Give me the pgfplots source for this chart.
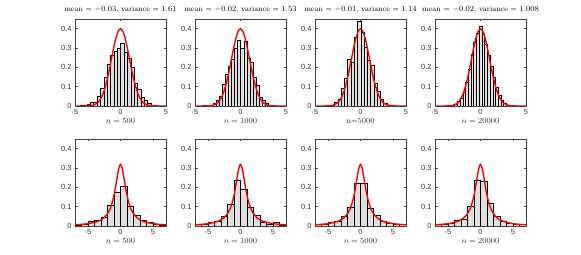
\documentclass[border=0pt]{standalone}
\usepackage{fontspec}
\usepackage{pgfplots}
\usepackage{pgfplotstable}
\pgfplotsset{compat=1.18}
\newfontfamily\ticks{Liberation Sans}

\pgfplotstableread{
x y
-5 0
-4.5 0.00002
-4 0.0001
-3.5 0.0009
-3.25 0.0020
-3 0.0044
-2.75 0.0091
-2.5 0.0175
-2.25 0.0317
-2 0.0540
-1.75 0.0863
-1.5 0.1295
-1.25 0.1826
-1 0.2420
-0.75 0.3011
-0.5 0.3521
-0.25 0.3867
0 0.3989
0.25 0.3867
0.5 0.3521
0.75 0.3011
1 0.2420
1.25 0.1826
1.5 0.1295
1.75 0.0863
2 0.0540
2.25 0.0317
2.5 0.0175
2.75 0.0091
3 0.0044
3.25 0.0020
3.5 0.0009
4 0.0001
4.5 0.00002
5 0
}\normtab

\pgfplotstableread{
x y
-7 0.0064
-6 0.0086
-5 0.0122
-4 0.0187
-3.5 0.0240
-3 0.0318
-2.5 0.0439
-2 0.0637
-1.75 0.0784
-1.5 0.0979
-1.25 0.1242
-1 0.1592
-0.875 0.1803
-0.75 0.2037
-0.625 0.2289
-0.5 0.2546
-0.375 0.2791
-0.25 0.2996
-0.125 0.3134
0 0.3183
0.125 0.3134
0.25 0.2996
0.375 0.2791
0.5 0.2546
0.625 0.2289
0.75 0.2037
0.875 0.1803
1 0.1592
1.25 0.1242
1.5 0.0979
1.75 0.0784
2 0.0637
2.5 0.0439
3 0.0318
3.5 0.0240
4 0.0187
5 0.0122
6 0.0086
7 0.0064
}\cauchytab

\pgfplotstableread{
x y
-4.42 0.003
-4.05 0.004
-3.68 0.008
-3.31 0.018
-2.94 0.02
-2.57 0.05
-2.20 0.09
-1.83 0.148
-1.46 0.214
-1.09 0.265
-0.72 0.285
-0.35 0.30
0.02 0.322
0.39 0.28
0.76 0.245
1.13 0.20
1.50 0.12
1.87 0.085
2.24 0.045
2.61 0.03
2.98 0.014
3.35 0.006
3.72 0.003
4.09 0
}\histA

\pgfplotstableread{
x y
-4.06 0.002
-3.72 0.003
-3.38 0.006
-3.04 0.012
-2.70 0.028
-2.36 0.05
-2.02 0.11
-1.68 0.165
-1.34 0.205
-1.00 0.24
-0.66 0.30
-0.32 0.34
0.02 0.30
0.36 0.335
0.70 0.245
1.04 0.228
1.38 0.15
1.72 0.105
2.06 0.045
2.40 0.03
2.74 0.014
3.08 0.006
3.42 0.002
3.76 0
}\histB

\pgfplotstableread{
x y
-3.57 0.002
-3.21 0.005
-2.85 0.02
-2.49 0.035
-2.13 0.09
-1.77 0.143
-1.41 0.24
-1.05 0.225
-0.69 0.357
-0.33 0.437
0.03 0.38
0.39 0.305
0.75 0.237
1.11 0.21
1.47 0.117
1.83 0.074
2.19 0.034
2.55 0.014
2.91 0.005
3.27 0.002
3.63 0
}\histC

\pgfplotstableread{
x y
-3.45 0.002
-3.15 0.005
-2.85 0.011
-2.55 0.024
-2.25 0.042
-1.95 0.072
-1.65 0.125
-1.35 0.19
-1.05 0.268
-0.75 0.33
-0.45 0.375
-0.15 0.412
0.15 0.377
0.45 0.318
0.75 0.262
1.05 0.205
1.35 0.148
1.65 0.098
1.95 0.055
2.25 0.03
2.55 0.012
2.85 0.005
3.15 0.002
3.45 0
}\histD

\pgfplotstableread{
x y
-7 0.006
-6 0.01
-5 0.025
-4 0.03
-3 0.046
-2 0.106
-1 0.174
0 0.205
1 0.10
2 0.056
3 0.028
4 0.02
5 0.01
6 0.006
7 0
}\histE

\pgfplotstableread{
x y
-7 0.007
-6 0.009
-5 0.017
-4 0.024
-3 0.052
-2 0.113
-1 0.238
0 0.191
1 0.097
2 0.056
3 0.021
4 0.01
5 0.017
6 0.006
7 0
}\histF

\pgfplotstableread{
x y
-7 0.008
-6 0.011
-5 0.017
-4 0.023
-3 0.049
-2 0.097
-1 0.221
0 0.221
1 0.094
2 0.054
3 0.024
4 0.012
5 0.01
6 0.008
7 0
}\histG

\pgfplotstableread{
x y
-7 0.008
-6 0.01
-5 0.015
-4 0.031
-3 0.035
-2 0.104
-1 0.238
0 0.233
1 0.117
2 0.052
3 0.023
4 0.015
5 0.01
6 0.007
7 0
}\histH

\pgfplotsset{
  base/.style={
    scale only axis, width=91bp, height=87bp,
    ymin=0, ymax=0.45,
    ytick={0,0.1,0.2,0.3,0.4}, yticklabels={0,0.1,0.2,0.3,0.4},
    axis line style={black!75, line width=0.5bp},
    every tick/.style={black!75, line width=0.4bp},
    major tick length=2.5bp,
    tick label style={font=\ticks\fontsize{7.5}{8}\selectfont, text=black!80},
    xlabel style={font=\fontsize{8}{9}\selectfont, text=black!80, yshift=3bp},
    title style={font=\fontsize{7.6}{8.5}\selectfont, at={(0.5,1)}, anchor=south, yshift=-3.5bp},
    clip=true,
  },
  toprow/.style={base, xmin=-5, xmax=5, xtick={-5,0,5}, xticklabels={-5,0,5}},
  botrow/.style={base, xmin=-7, xmax=7, xtick={-5,0,5}, xticklabels={-5,0,5}},
  hist/.style={ybar interval, fill=black!12, draw=black, line width=0.5bp},
  pdf/.style={red, line width=1.4bp, smooth, no marks},
}

\begin{document}
\begin{tikzpicture}
\path[use as bounding box] (0,0) rectangle (581bp,255bp);

\begin{axis}[toprow, at={(75bp,149bp)}, anchor=south west,
  title={mean = $-0.03$, variance = $1.61$}, xlabel={$n = 500$}]
  \addplot[hist] table {\histA};
  \addplot[pdf] table {\normtab};
\end{axis}
\begin{axis}[toprow, at={(195bp,149bp)}, anchor=south west,
  title={mean = $-0.02$, variance = $1.53$}, xlabel={$n = 1000$}]
  \addplot[hist] table {\histB};
  \addplot[pdf] table {\normtab};
\end{axis}
\begin{axis}[toprow, at={(315bp,149bp)}, anchor=south west,
  title={mean = $-0.01$, variance = $1.14$}, xlabel={n=5000}]
  \addplot[hist] table {\histC};
  \addplot[pdf] table {\normtab};
\end{axis}
\begin{axis}[toprow, at={(435bp,149bp)}, anchor=south west,
  title={mean = $-0.02$, variance = $1.008$}, xlabel={$n = 20000$}]
  \addplot[hist] table {\histD};
  \addplot[pdf] table {\normtab};
\end{axis}

\begin{axis}[botrow, at={(75bp,29bp)}, anchor=south west, xlabel={$n = 500$}]
  \addplot[hist] table {\histE};
  \addplot[pdf] table {\cauchytab};
\end{axis}
\begin{axis}[botrow, at={(195bp,29bp)}, anchor=south west, xlabel={$n = 1000$}]
  \addplot[hist] table {\histF};
  \addplot[pdf] table {\cauchytab};
\end{axis}
\begin{axis}[botrow, at={(315bp,29bp)}, anchor=south west, xlabel={$n = 5000$}]
  \addplot[hist] table {\histG};
  \addplot[pdf] table {\cauchytab};
\end{axis}
\begin{axis}[botrow, at={(435bp,29bp)}, anchor=south west, xlabel={$n = 20000$}]
  \addplot[hist] table {\histH};
  \addplot[pdf] table {\cauchytab};
\end{axis}
\end{tikzpicture}
\end{document}
